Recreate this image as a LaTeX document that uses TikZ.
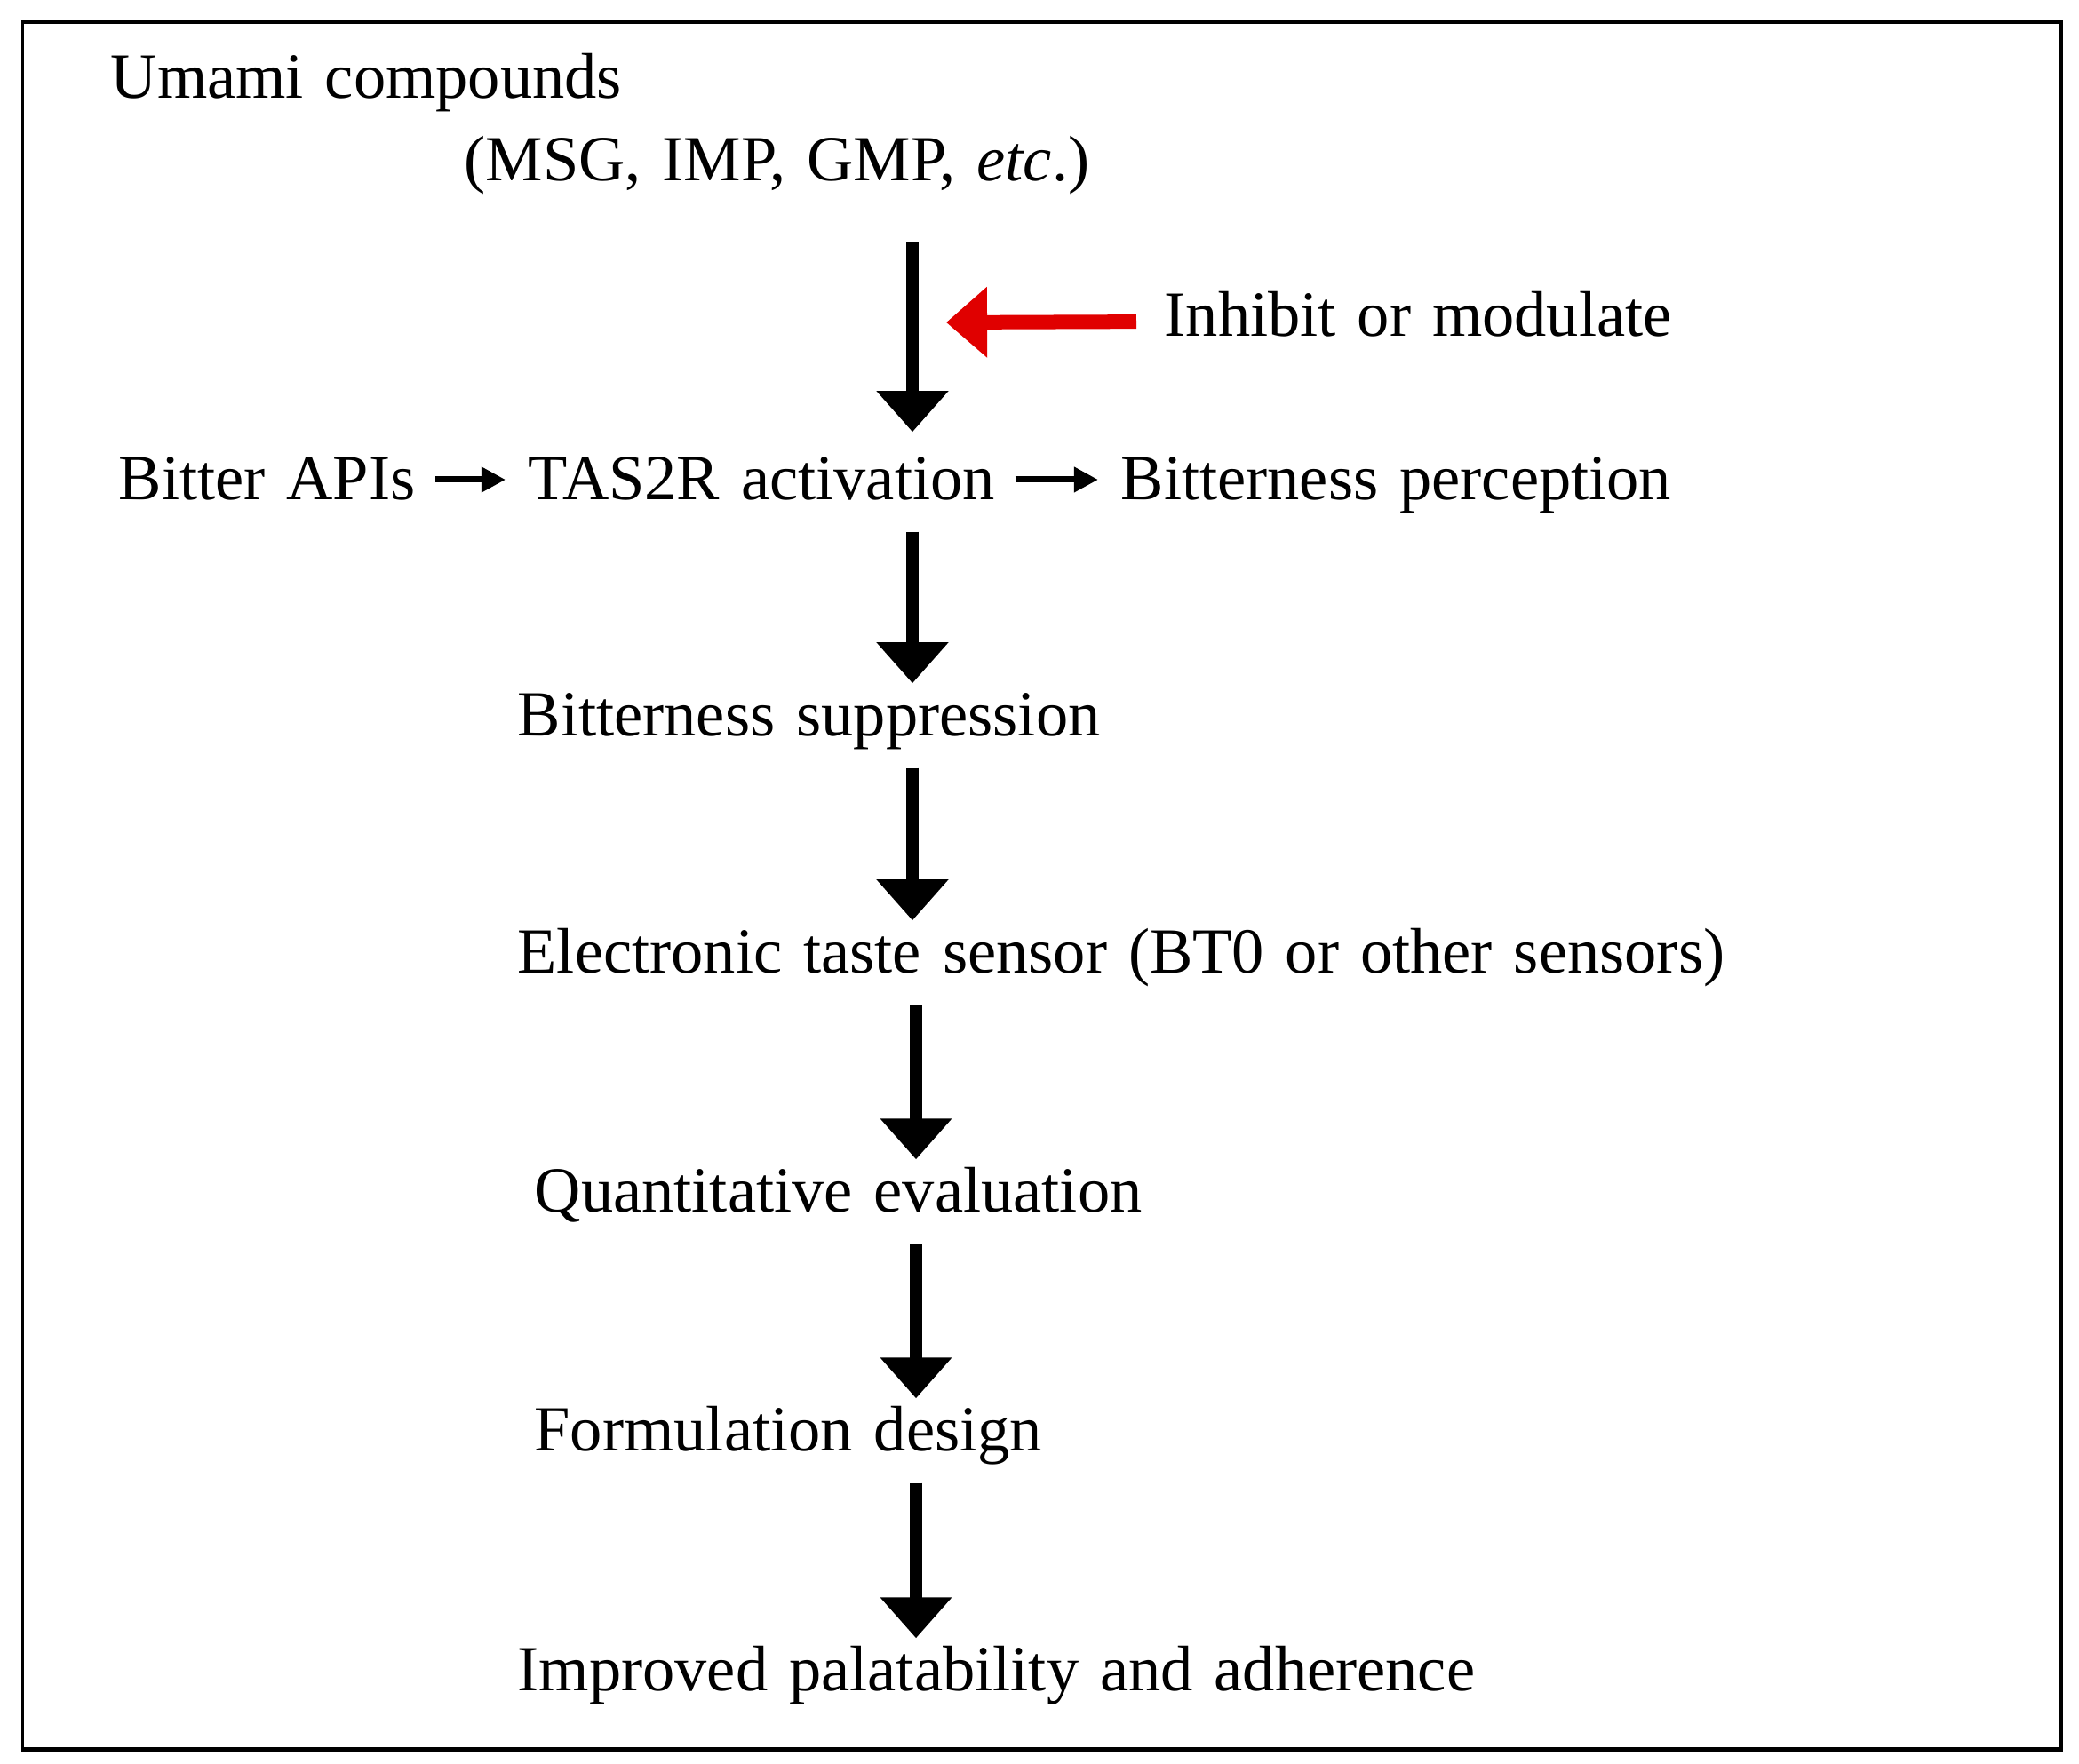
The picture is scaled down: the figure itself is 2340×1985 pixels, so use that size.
\documentclass[tikz,border=0pt]{standalone}
\usepackage{fontspec}
\setmainfont{Liberation Serif}
\usetikzlibrary{arrows.meta}
\definecolor{inhred}{RGB}{224,0,0}
\newcommand{\lblfont}{\fontsize{20.6}{24}\selectfont\spaceskip=0.33em\relax}

\begin{document}
\begin{tikzpicture}[
	x=0.01cm, y=-0.01cm,
	lbl/.style={anchor=base west, inner sep=0pt, text height=0.48cm, text depth=0.16cm,
		font=\lblfont},
	flow/.style={draw=black, line width=0.14cm, -{Triangle[length=0.46cm,width=0.78cm]},
		shorten <=0.2cm, shorten >=0.1cm},
	small/.style={draw=black, line width=0.07cm, -{Triangle[length=0.27cm,width=0.27cm]},
		shorten <=0.22cm, shorten >=0.25cm, transform canvas={yshift=0.06cm}},
	inhib/.style={draw=inhred, line width=0.16cm, -{Triangle[length=0.46cm,width=0.77cm]},
		shorten <=0.31cm}
	]
	\useasboundingbox (0,0) rectangle (2340,1985);
	% frame
	\draw[line width=0.03cm] (25.5,24.5) -- (25.5,1969);
	\draw[line width=0.05cm] (24,24.5) -- (2319.5,24.5) -- (2319.5,1969) -- (24,1969);

	\node[lbl] (umami) at (124,111) {Umami compounds};
	\node[lbl] (msg) at (522,203) {(MSG, IMP, GMP, \textit{etc}.)};
	\node[lbl] (mod) at (1310,378) {Inhibit or modulate};
	\node[lbl] (api) at (133,562) {Bitter APIs};
	\node[lbl] (act) at (594,562) {TAS2R activation};
	\node[lbl] (perc) at (1261,562) {Bitterness perception};
	\node[lbl] (supp) at (582,828) {Bitterness suppression};
	\node[lbl] (sens) at (582,1095) {Electronic taste sensor (BT0 or other sensors)};
	\node[lbl] (quant) at (601,1364) {Quantitative evaluation};
	\node[lbl] (form) at (601,1633) {Formulation design};
	\node[lbl] (impr) at (582,1903) {Improved palatability and adherence};

	\coordinate (c1) at (1027,0);
	\coordinate (c2) at (1031,0);
	\coordinate (hit) at (1065,363);

	% main flow
	\draw[flow, shorten <=0.53cm, shorten >=0.27cm] (msg.south -| c1) -- (act.north -| c1);
	\foreach \a/\b/\c in {act/supp/c1, supp/sens/c1, sens/quant/c2, quant/form/c2, form/impr/c2}
		\draw[flow] (\a.south -| \c) -- (\b.north -| \c);
	\draw[small] (api.east) -- (act.west);
	\draw[small] (act.east) -- (perc.west);
	\draw[inhib] (mod.west) -- (hit);
\end{tikzpicture}
\end{document}
